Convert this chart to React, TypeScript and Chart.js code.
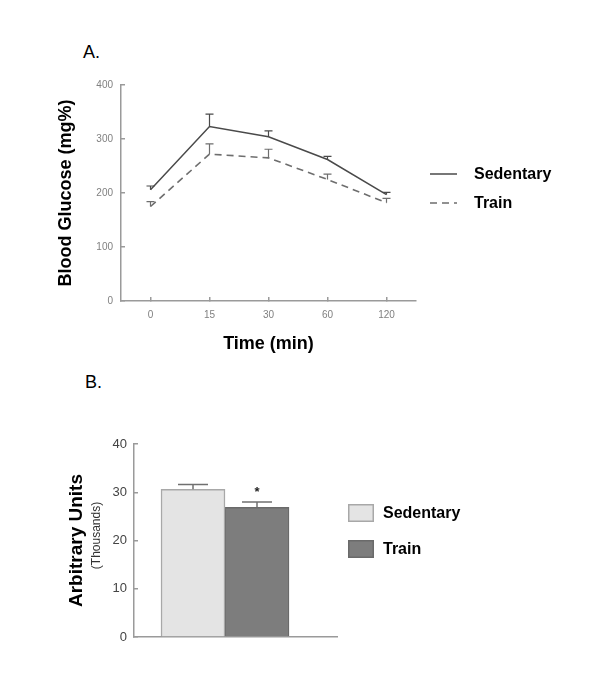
import React, { useEffect, useRef } from 'react';
import { Chart, registerables } from 'chart.js';

Chart.register(...registerables);

const FONT = "Arial, 'Liberation Sans', sans-serif";

// ---- Panel A: blood glucose over time ----
const timeLabels = ['0', '15', '30', '60', '120'];
const sedentaryGlucose = [206, 323, 304, 262, 197];
const sedentaryGlucoseErr = [7, 23, 11, 6, 4];
const trainGlucose = [175, 272, 265, 225, 182];
const trainGlucoseErr = [9, 19, 16, 10, 8];
const glucoseMin = 0;
const glucoseMax = 400;
const glucoseStep = 100;

// ---- Panel B: arbitrary units ----
const groupNames = ['Sedentary', 'Train'];
const groupPositions = [1, 2];
const arbitraryUnits = [30.6, 26.9];
const arbitraryUnitsErr = [1.0, 1.1];
const significanceMarks = ['', '*'];
const auMin = 0;
const auMax = 40;
const auStep = 10;

const AXIS = '#9a9a9a';

const lineErrorBars = {
  id: 'lineErrorBars',
  afterDatasetsDraw(chart: any) {
    const { ctx } = chart;
    const yScale = chart.scales.y;
    chart.data.datasets.forEach((ds: any, di: number) => {
      const meta = chart.getDatasetMeta(di);
      meta.data.forEach((el: any, i: number) => {
        const top = yScale.getPixelForValue(ds.data[i] + ds.errors[i]);
        ctx.save();
        ctx.strokeStyle = ds.borderColor;
        ctx.lineWidth = 1.2;
        ctx.setLineDash([]);
        ctx.beginPath();
        ctx.moveTo(el.x, el.y);
        ctx.lineTo(el.x, top);
        ctx.moveTo(el.x - 4, top);
        ctx.lineTo(el.x + 4, top);
        ctx.stroke();
        ctx.restore();
      });
    });
  },
};

const lineLegend = {
  id: 'lineLegend',
  afterDraw(chart: any) {
    const { ctx, chartArea } = chart;
    chart.data.datasets.forEach((ds: any, i: number) => {
      const y = chartArea.top + 89 + i * 29;
      const x0 = chartArea.right + 14;
      ctx.save();
      ctx.strokeStyle = ds.borderColor;
      ctx.lineWidth = ds.borderWidth;
      ctx.setLineDash(ds.borderDash || []);
      ctx.beginPath();
      ctx.moveTo(x0, y);
      ctx.lineTo(x0 + 27, y);
      ctx.stroke();
      ctx.setLineDash([]);
      ctx.fillStyle = '#000';
      ctx.font = `bold 16px ${FONT}`;
      ctx.textBaseline = 'middle';
      ctx.textAlign = 'left';
      ctx.fillText(ds.label, x0 + 44, y + 1);
      ctx.restore();
    });
  },
};

const barErrorBars = {
  id: 'barErrorBars',
  afterDatasetsDraw(chart: any) {
    const { ctx } = chart;
    const yScale = chart.scales.y;
    chart.data.datasets.forEach((ds: any, di: number) => {
      const meta = chart.getDatasetMeta(di);
      meta.data.forEach((el: any, i: number) => {
        const v = ds.data[i].y;
        const top = yScale.getPixelForValue(v + ds.errors[i]);
        ctx.save();
        ctx.strokeStyle = '#707070';
        ctx.lineWidth = 1.5;
        ctx.beginPath();
        ctx.moveTo(el.x, el.y);
        ctx.lineTo(el.x, top);
        ctx.moveTo(el.x - 15, top);
        ctx.lineTo(el.x + 15, top);
        ctx.stroke();
        if (ds.mark) {
          ctx.fillStyle = '#222';
          ctx.font = `bold 13px ${FONT}`;
          ctx.textAlign = 'center';
          ctx.textBaseline = 'alphabetic';
          ctx.fillText(ds.mark, el.x, top - 15 + 9);
        }
        ctx.restore();
      });
    });
  },
};

const barLegend = {
  id: 'barLegend',
  afterDraw(chart: any) {
    const { ctx, chartArea } = chart;
    const yScale = chart.scales.y;
    chart.data.datasets.forEach((ds: any, i: number) => {
      const x0 = chartArea.right + 11;
      const y0 = chartArea.top + 60 + i * 36;
      ctx.save();
      ctx.fillStyle = ds.backgroundColor;
      ctx.strokeStyle = ds.borderColor;
      ctx.lineWidth = 1.5;
      ctx.fillRect(x0, y0, 26, 18);
      ctx.strokeRect(x0 + 0.75, y0 + 0.75, 24.5, 16.5);
      ctx.fillStyle = '#000';
      ctx.font = `bold 16px ${FONT}`;
      ctx.textBaseline = 'middle';
      ctx.textAlign = 'left';
      ctx.fillText(ds.label, x0 + 35, y0 + 10);
      ctx.restore();
    });
    // secondary y-axis caption
    ctx.save();
    ctx.translate(yScale.left + 32, (chartArea.top + chartArea.bottom) / 2 - 5);
    ctx.rotate(-Math.PI / 2);
    ctx.fillStyle = '#333';
    ctx.font = `12px ${FONT}`;
    ctx.textAlign = 'center';
    ctx.textBaseline = 'middle';
    ctx.fillText('(Thousands)', 0, 0);
    ctx.restore();
  },
};

export default function App() {
  const refA = useRef<HTMLCanvasElement>(null);
  const refB = useRef<HTMLCanvasElement>(null);

  useEffect(() => {
    const chartA = new Chart(refA.current as HTMLCanvasElement, {
      type: 'line',
      data: {
        labels: timeLabels,
        datasets: [
          {
            label: 'Sedentary',
            data: sedentaryGlucose,
            errors: sedentaryGlucoseErr,
            borderColor: '#4a4a4a',
            borderWidth: 1.5,
            pointRadius: 0,
            tension: 0,
          } as any,
          {
            label: 'Train',
            data: trainGlucose,
            errors: trainGlucoseErr,
            borderColor: '#6e6e6e',
            borderWidth: 1.6,
            borderDash: [7, 5],
            pointRadius: 0,
            tension: 0,
          } as any,
        ],
      },
      options: {
        responsive: false,
        devicePixelRatio: 1,
        animation: false,
        layout: { padding: { left: 55, right: 184, top: 25, bottom: 5 } },
        plugins: { legend: { display: false }, tooltip: { enabled: false } },
        scales: {
          x: {
            type: 'category',
            offset: true,
            grid: { drawOnChartArea: false, drawTicks: true, tickLength: -4, color: AXIS, lineWidth: 1.5 },
            border: { color: AXIS, width: 1.5 },
            ticks: { font: { family: FONT, size: 10 }, color: '#808080', padding: 12 },
            title: { display: true, text: 'Time (min)', font: { family: FONT, size: 18, weight: 'bold' }, color: '#000', padding: 0 },
            afterFit: (s: any) => { s.height = 54; },
          },
          y: {
            min: glucoseMin,
            max: glucoseMax,
            grid: { drawOnChartArea: false, drawTicks: true, tickLength: -4, color: AXIS, lineWidth: 1.5 },
            border: { color: AXIS, width: 1.5 },
            ticks: { stepSize: glucoseStep, font: { family: FONT, size: 10 }, color: '#808080', padding: 12 },
            title: { display: true, text: 'Blood Glucose (mg%)', font: { family: FONT, size: 18, weight: 'bold' }, color: '#000', padding: 0 },
            afterFit: (s: any) => { s.width = 66; },
          },
        },
      } as any,
      plugins: [lineErrorBars, lineLegend],
    });

    const chartB = new Chart(refB.current as HTMLCanvasElement, {
      type: 'bar',
      data: {
        datasets: [
          {
            label: groupNames[0],
            data: [{ x: groupPositions[0], y: arbitraryUnits[0] }],
            errors: [arbitraryUnitsErr[0]],
            mark: significanceMarks[0],
            backgroundColor: '#e4e4e4',
            borderColor: '#a8a8a8',
            borderWidth: 1.5,
          } as any,
          {
            label: groupNames[1],
            data: [{ x: groupPositions[1], y: arbitraryUnits[1] }],
            errors: [arbitraryUnitsErr[1]],
            mark: significanceMarks[1],
            backgroundColor: '#7d7d7d',
            borderColor: '#6a6a6a',
            borderWidth: 1.5,
          } as any,
        ],
      },
      options: {
        responsive: false,
        devicePixelRatio: 1,
        animation: false,
        layout: { padding: { left: 65, right: 263, top: 24, bottom: 3 } },
        plugins: { legend: { display: false }, tooltip: { enabled: false } },
        datasets: { bar: { grouped: false, barThickness: 64 } },
        scales: {
          x: {
            type: 'linear',
            offset: false,
            min: 0.078,
            max: 3.25,
            grid: { display: false, offset: false },
            border: { color: AXIS, width: 1.5 },
            ticks: { display: false },
            afterFit: (s: any) => { s.height = 20; },
          },
          y: {
            min: auMin,
            max: auMax,
            grid: { drawOnChartArea: false, drawTicks: true, tickLength: -4, color: AXIS, lineWidth: 1.5 },
            border: { color: AXIS, width: 1.5 },
            ticks: { stepSize: auStep, font: { family: FONT, size: 13 }, color: '#444', padding: 11 },
            title: { display: true, text: 'Arbitrary Units', font: { family: FONT, size: 19, weight: 'bold' }, color: '#000', padding: 0 },
            afterFit: (s: any) => { s.width = 69; },
          },
        },
      } as any,
      plugins: [barErrorBars, barLegend],
    });

    return () => {
      chartA.destroy();
      chartB.destroy();
    };
  }, []);

  return (
    <div style={{ position: 'absolute', left: 0, top: 0, width: 600, height: 700, background: '#fff', fontFamily: FONT }}>
      <div style={{ position: 'absolute', left: 83, top: 42, fontSize: 18, lineHeight: '20px', color: '#000' }}>A.</div>
      <canvas ref={refA} width={600} height={300} style={{ position: 'absolute', left: 0, top: 60, display: 'block' }} />
      <div style={{ position: 'absolute', left: 85, top: 372, fontSize: 18, lineHeight: '20px', color: '#000' }}>B.</div>
      <canvas ref={refB} width={600} height={240} style={{ position: 'absolute', left: 0, top: 420, display: 'block' }} />
    </div>
  );
}
